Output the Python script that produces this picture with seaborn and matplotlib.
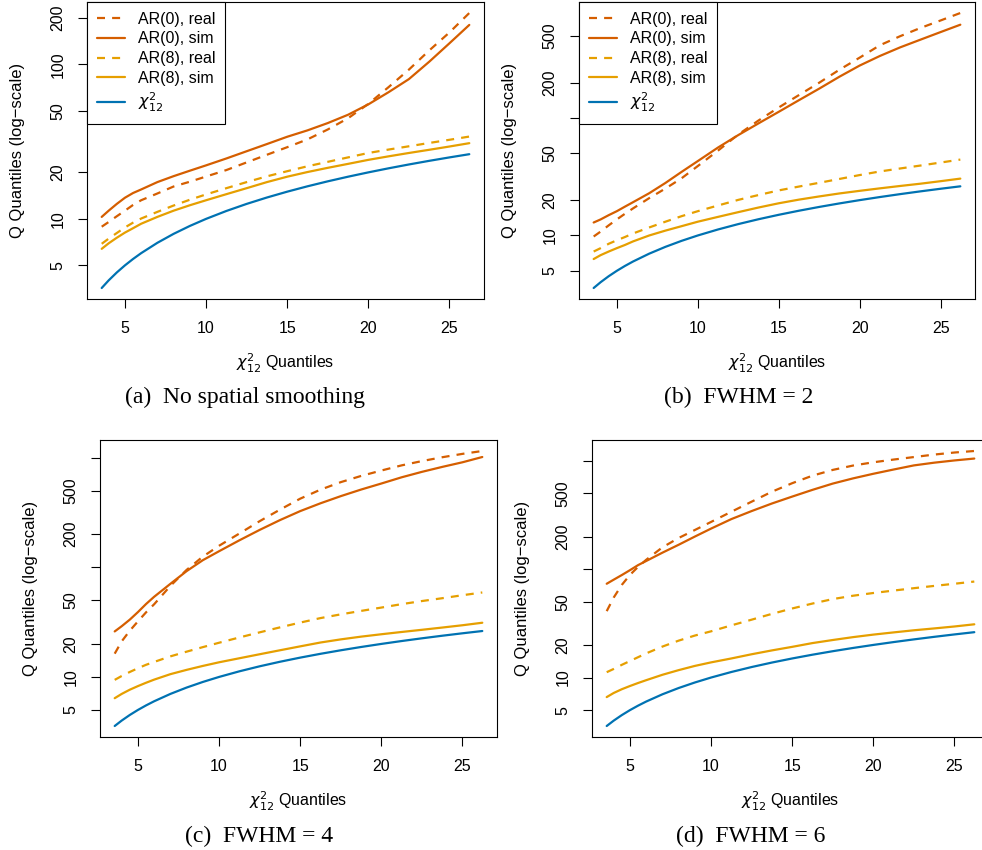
import numpy as np
import pandas as pd
import matplotlib
matplotlib.use("Agg")
import matplotlib.pyplot as plt
import seaborn as sns

# ============================================================================
# DATA
# ============================================================================
# chi^2_12 quantiles used as x positions (1% .. 99%)
CHI2_Q = [3.57, 4, 4.5, 5, 5.5, 6, 7, 8, 9, 10, 11.25, 12.5, 13.75, 15,
          16.25, 17.5, 18.75, 20, 21.25, 22.5, 23.75, 25, 26.22]
# reference line: chi^2_12 quantiles against themselves
CHI2_LINE = [3.57, 4, 4.5, 5, 5.5, 6, 7, 8, 9, 10, 11.25, 12.5, 13.75, 15,
             16.25, 17.5, 18.75, 20, 21.25, 22.5, 23.75, 25, 26.22]

# (a) no spatial smoothing
A_AR0_REAL = [8.9, 9.55, 10.4, 11.3, 12.3, 13.2, 14.6, 16.2, 17.4, 18.8, 20.7, 23.2,
              26.0, 29.1, 32.7, 37.9, 44.8, 55.5, 71.3, 92.5, 123, 161, 215]
A_AR0_SIM = [10.3, 11.3, 12.5, 13.7, 14.7, 15.5, 17.3, 18.9, 20.5, 22.2, 24.6, 27.4,
             30.5, 34.0, 37.4, 41.7, 47.2, 55.1, 66.1, 80.3, 104, 137, 180]
A_AR8_REAL = [6.9, 7.45, 8.1, 8.8, 9.45, 10.05, 11.1, 12.2, 13.3, 14.4, 15.8, 17.3,
              18.85, 20.35, 21.9, 23.4, 25.0, 26.7, 28.1, 29.5, 31.0, 32.5, 34.1]
A_AR8_SIM = [6.4, 6.95, 7.55, 8.15, 8.7, 9.3, 10.3, 11.3, 12.25, 13.2, 14.45, 15.8,
             17.3, 18.75, 20.1, 21.4, 22.7, 24.1, 25.4, 26.7, 28.0, 29.4, 30.9]

# (b) FWHM = 2
B_AR0_REAL = [9.8, 10.8, 12.2, 13.7, 15.3, 17.0, 20.8, 25.1, 30.7, 39.0, 52.8, 72.4,
              95.3, 123, 157, 200, 258, 327, 417, 498, 585, 678, 785]
B_AR0_SIM = [12.9, 13.7, 14.9, 16.1, 17.6, 19.2, 22.9, 28.0, 34.8, 43.0, 56.1, 71.6,
             90.1, 113, 142, 178, 225, 280, 338, 400, 465, 540, 624]
B_AR8_REAL = [7.3, 7.8, 8.5, 9.1, 9.7, 10.4, 11.7, 13.1, 14.6, 16.1, 18.0, 20.1,
              22.1, 24.2, 26.1, 28.1, 30.3, 32.7, 35.1, 37.2, 39.4, 41.8, 44.3]
B_AR8_SIM = [6.3, 6.8, 7.3, 7.8, 8.3, 8.9, 10.0, 11.0, 12.0, 13.1, 14.4, 15.8,
             17.3, 18.8, 20.2, 21.5, 22.8, 24.0, 25.2, 26.4, 27.6, 29.0, 30.5]

# (c) FWHM = 4
C_AR0_REAL = [16.3, 21.1, 26.4, 32.1, 38.8, 46.0, 67.6, 94.6, 125, 157, 203, 263,
              335, 422, 510, 597, 680, 762, 849, 929, 1007, 1081, 1148]
C_AR0_SIM = [26.0, 29.0, 33.3, 39.0, 46.2, 53.8, 70.6, 92.2, 116, 140, 176, 219,
             269, 325, 383, 445, 511, 580, 661, 741, 822, 906, 1012]
C_AR8_REAL = [9.4, 10.2, 11.1, 12.0, 12.9, 13.7, 15.4, 17.0, 18.7, 20.5, 22.9, 25.5,
              28.3, 31.3, 34.4, 37.2, 40.0, 42.9, 46.1, 49.2, 52.2, 55.6, 58.9]
C_AR8_SIM = [6.4, 7.0, 7.65, 8.25, 8.85, 9.45, 10.6, 11.6, 12.6, 13.6, 14.8, 16.1,
             17.5, 19.0, 20.6, 22.0, 23.3, 24.5, 25.7, 26.9, 28.2, 29.6, 31.2]

# (d) FWHM = 6
D_AR0_REAL = [41.0, 54.7, 71.6, 88.5, 105, 122, 159, 194, 230, 273, 339, 420,
              519, 622, 730, 825, 905, 970, 1028, 1084, 1143, 1194, 1233]
D_AR0_SIM = [73.4, 80.0, 88.3, 97.9, 109, 119, 142, 168, 200, 237, 290, 344,
             404, 468, 540, 617, 689, 760, 832, 908, 962, 1009, 1050]
D_AR8_REAL = [11.2, 12.0, 13.1, 14.2, 15.4, 16.7, 19.3, 21.9, 24.4, 26.7, 30.3, 34.2,
              38.7, 43.4, 48.2, 53.0, 56.9, 60.3, 63.5, 66.8, 70.1, 73.4, 76.9]
D_AR8_SIM = [6.6, 7.2, 7.8, 8.35, 8.9, 9.45, 10.6, 11.7, 12.8, 13.8, 15.0, 16.4,
             17.8, 19.2, 20.8, 22.2, 23.6, 24.9, 26.1, 27.3, 28.4, 29.6, 31.0]

SERIES_NAMES = ["AR(0), real", "AR(0), sim", "AR(8), real", "AR(8), sim", r"$\chi^2_{12}$"]
CAPTIONS = ["(a)  No spatial smoothing", "(b)  FWHM = 2", "(c)  FWHM = 4", "(d)  FWHM = 6"]
Y_TICKS = [5, 10, 20, 50, 100, 200, 500, 1000]
X_TICKS = [5, 10, 15, 20, 25]

# ============================================================================
# STYLE
# ============================================================================
DARK_ORANGE = "#D55E00"
ORANGE = "#E69F00"
BLUE = "#0072B2"
DASHED = (0, (3.6, 3.2))
SERIES_STYLE = [
    (DARK_ORANGE, DASHED),
    (DARK_ORANGE, "-"),
    (ORANGE, DASHED),
    (ORANGE, "-"),
    (BLUE, "-"),
]

sns.set_theme(style="white")
plt.rcParams["font.family"] = ["Liberation Sans", "DejaVu Sans"]
plt.rcParams.update({
    "text.color": "black",
    "axes.labelcolor": "black",
    "axes.edgecolor": "black",
    "axes.linewidth": 0.8,
    "xtick.color": "black",
    "ytick.color": "black",
    "xtick.bottom": True,
    "ytick.left": True,
})

W, H = 982, 850
# panel boxes in pixels: left, top, right, bottom
PANEL_BOX = [(87, 2, 484, 299), (579, 2, 975, 299),
             (100, 440, 497, 737), (592, 440, 989, 737)]
CAPTION_XY = [(245, 397), (739, 397), (259, 836), (751, 836)]
# which y tick labels R dropped for overlap
HIDDEN_Y = [[], [100], [100, 1000], [100, 1000]]

panel_series = [
    [A_AR0_REAL, A_AR0_SIM, A_AR8_REAL, A_AR8_SIM, CHI2_LINE],
    [B_AR0_REAL, B_AR0_SIM, B_AR8_REAL, B_AR8_SIM, CHI2_LINE],
    [C_AR0_REAL, C_AR0_SIM, C_AR8_REAL, C_AR8_SIM, CHI2_LINE],
    [D_AR0_REAL, D_AR0_SIM, D_AR8_REAL, D_AR8_SIM, CHI2_LINE],
]

fig = plt.figure(figsize=(W / 100, H / 100), dpi=100)

for i, series in enumerate(panel_series):
    l, t, r, b = PANEL_BOX[i]
    ax = fig.add_axes([l / W, 1 - b / H, (r - l) / W, (b - t) / H])

    for name, vals, (color, ls) in zip(SERIES_NAMES, series, SERIES_STYLE):
        df = pd.DataFrame({"x": CHI2_Q, "y": vals})
        sns.lineplot(data=df, x="x", y="y", ax=ax, color=color, linestyle=ls,
                     lw=1.6, estimator=None, sort=False, label=name)

    ax.set_yscale("log")
    ax.yaxis.set_minor_locator(matplotlib.ticker.NullLocator())

    # R style 4% padding on both axes (log space for y)
    all_y = np.concatenate([np.asarray(s, float) for s in series])
    lo, hi = np.log10(all_y.min()), np.log10(all_y.max())
    pad = 0.04 * (hi - lo)
    xlo, xhi = min(CHI2_Q), max(CHI2_Q)
    xpad = 0.04 * (xhi - xlo)

    ax.set_xticks(X_TICKS)
    ax.set_xticklabels([str(v) for v in X_TICKS])
    ax.set_yticks(Y_TICKS)
    ax.set_yticklabels(["" if v in HIDDEN_Y[i] else str(v) for v in Y_TICKS])
    ax.set_xlim(xlo - xpad, xhi + xpad)
    ax.set_ylim(10 ** (lo - pad), 10 ** (hi + pad))

    ax.tick_params(axis="both", length=6.5, width=0.8, pad=9, labelsize=11.5)
    ax.tick_params(axis="y", labelrotation=90)
    for lab in ax.get_yticklabels():
        lab.set_va("center")

    ax.set_xlabel(r"$\chi^2_{12}$ Quantiles", fontsize=11.5)
    ax.set_ylabel("Q Quantiles (log\u2212scale)", fontsize=12)
    ax.xaxis.label.set_va("center")
    ax.yaxis.label.set_va("center")
    ax.xaxis.set_label_coords(0.5, -64 / 297)
    ax.yaxis.set_label_coords(-69 / 397 if i != 1 else -70 / 397, 0.5)

    if i < 2:
        leg = ax.legend(loc="upper left", borderaxespad=0, fancybox=False,
                        edgecolor="black", framealpha=1, fontsize=11.5,
                        handlelength=1.8, handletextpad=0.8,
                        labelspacing=0.3, borderpad=0.6)
        leg.get_frame().set_linewidth(0.8)
    else:
        if ax.get_legend() is not None:
            ax.get_legend().remove()

    cx, cy = CAPTION_XY[i]
    fig.text(cx / W, 1 - cy / H, CAPTIONS[i], ha="center", va="center",
             fontsize=17, family=["Liberation Serif", "DejaVu Serif"])

fig.savefig("out.png", dpi=100)
